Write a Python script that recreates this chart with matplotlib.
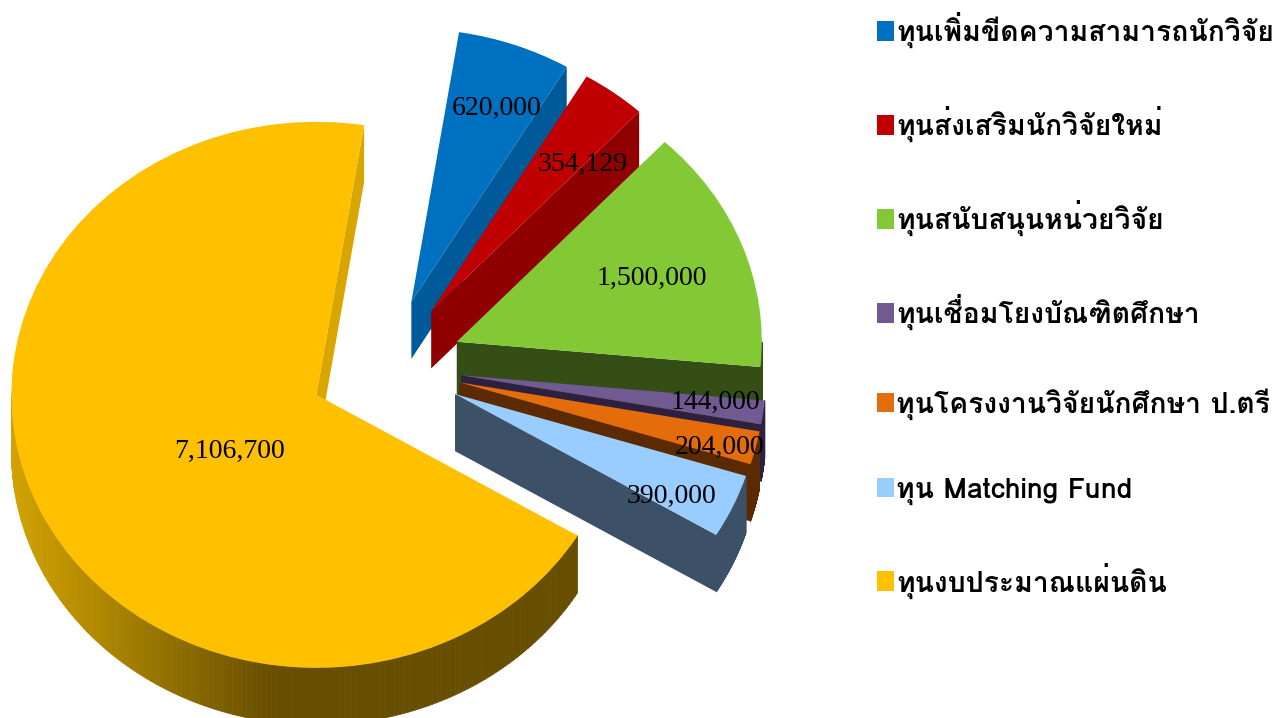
import numpy as np
import matplotlib
matplotlib.use('Agg')
import matplotlib.pyplot as plt
import matplotlib.font_manager as fm
from matplotlib.colors import LinearSegmentedColormap
from matplotlib.collections import PolyCollection

labels = ['ทุนเพิ่มขีดความสามารถนักวิจัย', 'ทุนส่งเสริมนักวิจัยใหม่', 'ทุนสนับสนุนหน่วยวิจัย',
          'ทุนเชื่อมโยงบัณฑิตศึกษา', 'ทุนโครงงานวิจัยนักศึกษา ป.ตรี', 'ทุน Matching Fund',
          'ทุนงบประมาณแผ่นดิน']
values = [620000, 354129, 1500000, 144000, 204000, 390000, 7106700]
top_colors = ['#0070c0', '#c00000', '#83c935', '#715a92', '#e46c0a', '#99ccff', '#ffc000']
wall_colors = ['#005a9a', '#900000', '#344e16', '#2e2040', '#5c2a00', '#3c5068', '#d9a600']

text_fonts = ['Loma', 'IBM Plex Sans Thai Looped', 'FreeSerif', 'DejaVu Sans']

W, H = 1282, 718
cx, cy = 385.5, 366.0     # pie centre in pixels
rx, ry = 305.0, 273.0     # pixels per unit radius
depth = 0.209
explode = 0.25
start = 81

fig = plt.figure(figsize=(W / 100, H / 100), dpi=100)
ax = fig.add_axes([0, 0, 1, 1])

wedges, _ = ax.pie(values, startangle=start, counterclock=False, colors=top_colors,
                   explode=[explode] * len(values), wedgeprops={'linewidth': 0})
ax.set_aspect('auto')
ax.set_xlim(-cx / rx, (W - cx) / rx)
ax.set_ylim((cy - H) / ry, cy / ry)
ax.axis('off')

shade = LinearSegmentedColormap.from_list('shade', ['#d2a200', '#b08800', '#8a6a00', '#674e00', '#674e00'])

angles = start - np.cumsum([0] + values) / sum(values) * 360
for i, w in enumerate(wedges):
    t1, t2 = angles[i], angles[i + 1]
    mid = np.radians((t1 + t2) / 2)
    ox, oy = explode * np.cos(mid), explode * np.sin(mid)
    w.set_zorder(2 * i + 3)
    # cut face on the clockwise edge
    ex, ey = ox + np.cos(np.radians(t2)), oy + np.sin(np.radians(t2))
    ax.fill([ox, ex, ex, ox], [oy, ey, ey - depth, oy - depth], color=wall_colors[i], lw=0, zorder=2 * i + 2)
    # outer wall, only the part facing front
    lo, hi = max(t2, -180), min(t1, 0)
    if lo < hi:
        ts = np.radians(np.linspace(hi, lo, 160))
        xs, ys = ox + np.cos(ts), oy + np.sin(ts)
        polys = [[(xs[k], ys[k]), (xs[k + 1], ys[k + 1]), (xs[k + 1], ys[k + 1] - depth), (xs[k], ys[k] - depth)]
                 for k in range(len(ts) - 1)]
        if i == len(values) - 1:
            cols = [shade(np.clip((xs[k] - xs.min()) / (xs.max() - xs.min()) * 1.6, 0, 1)) for k in range(len(ts) - 1)]
        else:
            cols = wall_colors[i]
        ax.add_collection(PolyCollection(polys, facecolors=cols, edgecolors=cols, linewidths=0.5, zorder=2 * i + 2))

# data labels, pixel positions
label_xy = [(497, 108), (583, 164), (652, 278), (715, 402), (720, 447), (671, 496), (229, 451)]
for v, (x, y) in zip(values, label_xy):
    fig.text(x / W, 1 - y / H, f'{v:,}', fontsize=20, family='Liberation Serif', ha='center', va='center', zorder=50)

leg = ax.legend(wedges, labels, loc='upper left', bbox_to_anchor=(877 / W, 1 - 12 / H),
                bbox_transform=fig.transFigure, frameon=False, borderpad=0, borderaxespad=0,
                handlelength=0.6, handleheight=0.7, handletextpad=0.08, labelspacing=2.04,
                prop=fm.FontProperties(family=text_fonts, weight='bold', size=20.4))
leg.set_zorder(60)

fig.savefig('out.png', dpi=100)
